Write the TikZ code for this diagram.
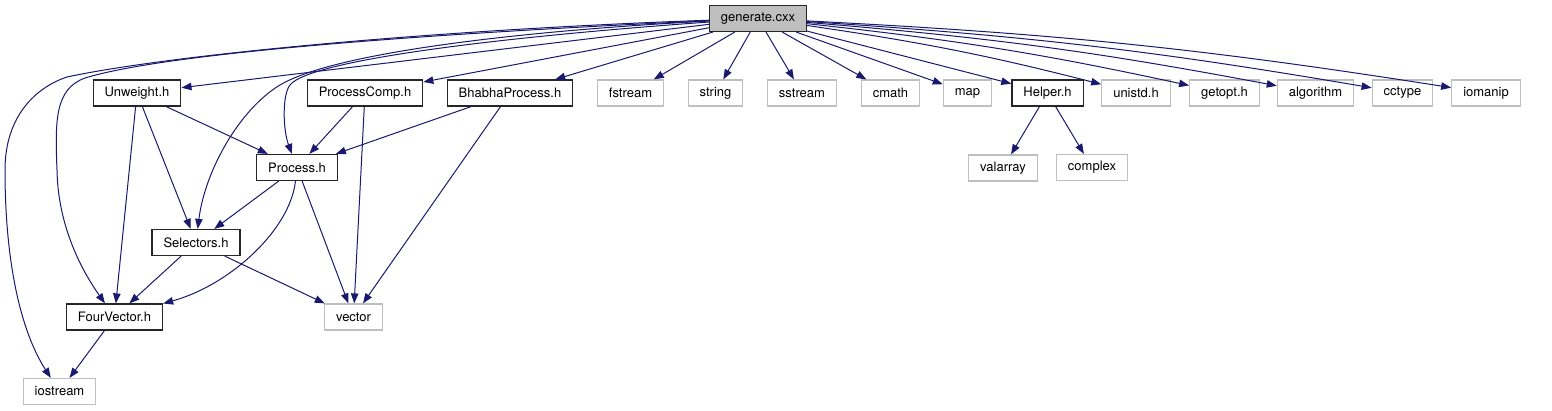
\documentclass[tikz,border=0pt]{standalone}
\usepackage{fontspec}
\setmainfont{TeX Gyre Heros}
\usepackage{xcolor}
\usetikzlibrary{arrows.meta}
\definecolor{edgeblue}{HTML}{191970}
\definecolor{boxgray}{HTML}{BFBFBF}

\begin{document}
\begin{tikzpicture}[x=1pt,y=-1pt,
  hdr/.style={draw=black!85,line width=1.2pt,minimum height=26pt,inner xsep=11.5pt,
    font=\fontsize{13}{15}\selectfont},
  sys/.style={hdr,draw=boxgray},
  dep/.style={edgeblue,line width=1pt,-{Triangle[length=10pt,width=7.5pt]}}]
  \useasboundingbox (0,0) rectangle (1552,411);
  % Top file
  \node[hdr,fill=boxgray] (gen) at (758,18.5) {generate.cxx};
  % Direct includes
  \node[hdr] (unweight) at (137,93) {Unweight.h};
  \node[hdr] (pcomp) at (365,93) {ProcessComp.h};
  \node[hdr] (bhabha) at (510,93) {BhabhaProcess.h};
  \node[sys] (fstream) at (630.5,93) {fstream};
  \node[sys] (string) at (715.5,93) {string};
  \node[sys] (sstream) at (802,93) {sstream};
  \node[sys] (cmath) at (890.5,93) {cmath};
  \node[sys] (map) at (967.5,93) {map};
  \node[hdr] (helper) at (1047.5,93) {Helper.h};
  \node[sys] (unistd) at (1136,93) {unistd.h};
  \node[sys] (getopt) at (1224.5,93) {getopt.h};
  \node[sys] (algorithm) at (1315.5,93) {algorithm};
  \node[sys] (cctype) at (1402.5,93) {cctype};
  \node[sys] (iomanip) at (1486,93) {iomanip};
  % Lower levels
  \node[hdr] (process) at (297,167.5) {Process.h};
  \node[sys] (valarray) at (1003,168) {valarray};
  \node[sys] (complex) at (1092,167.5) {complex};
  \node[hdr] (selectors) at (196,242.5) {Selectors.h};
  \node[hdr] (fourvec) at (114.5,317) {FourVector.h};
  \node[sys] (vector) at (353.5,317) {vector};
  \node[sys] (iostream) at (59.5,391.5) {iostream};
  % Edges from generate.cxx
  \foreach \n in {unweight,pcomp,bhabha,fstream,string,sstream,cmath,map,helper}
    \draw[dep] (gen) -- (\n);
  \foreach \n in {unistd,getopt,algorithm,cctype,iomanip}
    \draw[dep] (gen) to[bend left=3] (\n);
  \draw[dep] (gen) .. controls (430,30) and (170,55) .. (67,77)
    .. controls (37,87) and (5,115) .. (5,170)
    .. controls (5,260) and (20,330) .. (iostream);
  \draw[dep] (gen) .. controls (440,33) and (170,52) .. (85,78)
    .. controls (55,89) and (55,120) .. (57,170)
    .. controls (58,230) and (85,275) .. (fourvec);
  \draw[dep] (gen) .. controls (500,32) and (330,55) .. (280,85)
    .. controls (240,109) and (205,170) .. (selectors);
  \draw[dep] (gen) .. controls (500,37) and (310,60) .. (290,85)
    .. controls (282,95) and (283,130) .. (process);
  % Edges between headers
  \draw[dep] (unweight) -- (process);
  \draw[dep] (unweight) -- (selectors);
  \draw[dep] (unweight) -- (fourvec);
  \draw[dep] (pcomp) -- (process);
  \draw[dep] (pcomp) -- (vector);
  \draw[dep] (bhabha) -- (process);
  \draw[dep] (bhabha) -- (vector);
  \draw[dep] (process) -- (selectors);
  \draw[dep] (process) .. controls (290,230) and (230,285) .. (fourvec);
  \draw[dep] (process) -- (vector);
  \draw[dep] (selectors) -- (fourvec);
  \draw[dep] (selectors) -- (vector);
  \draw[dep] (fourvec) -- (iostream);
  \draw[dep] (helper) -- (valarray);
  \draw[dep] (helper) -- (complex);
\end{tikzpicture}
\end{document}
